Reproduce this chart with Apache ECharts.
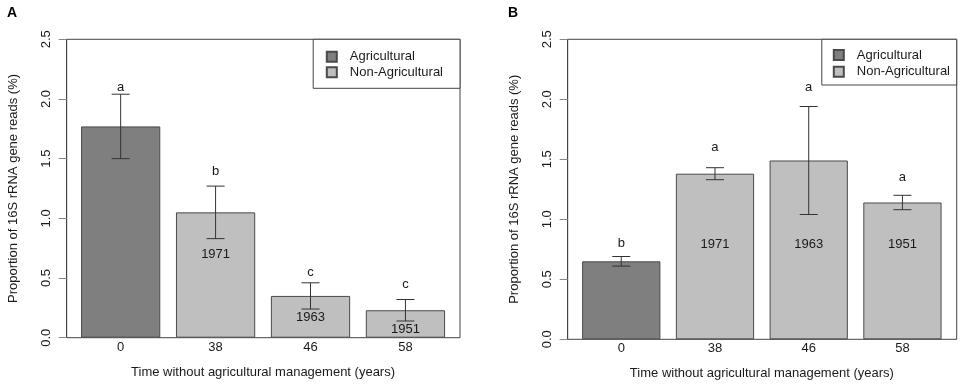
<!DOCTYPE html>
<html><head><meta charset="utf-8">
<script src="https://cdn.jsdelivr.net/npm/echarts@6/dist/echarts.min.js"></script>
<style>html,body{margin:0;padding:0;background:#fff}#c{width:964px;height:387px}</style>
</head><body><div id="c"></div>
<script>
// ---- data ----
const categories = ['0', '38', '46', '58'];
const groups = ['Agricultural', 'Non-Agricultural', 'Non-Agricultural', 'Non-Agricultural'];
const seriesNames = ['Agricultural', 'Non-Agricultural'];
const yMin = 0, yMax = 2.5, yStep = 0.5;

const meanA = [1.77, 1.05, 0.35, 0.23];
const lowA = [1.50, 0.83, 0.24, 0.14];
const highA = [2.04, 1.27, 0.46, 0.32];
const lettersA = ['a', 'b', 'c', 'c'];
const letterAtA = [2.10, 1.39, 0.55, 0.45];
const yearsA = ['', '1971', '1963', '1951'];
const yearAtA = [null, 0.70, 0.17, 0.07];

const meanB = [0.65, 1.38, 1.49, 1.14];
const lowB = [0.61, 1.33, 1.04, 1.08];
const highB = [0.69, 1.43, 1.94, 1.20];
const lettersB = ['b', 'a', 'a', 'a'];
const letterAtB = [0.80, 1.60, 2.10, 1.35];
const yearsB = ['', '1971', '1963', '1951'];
const yearAtB = [null, 0.79, 0.79, 0.79];

const panelTitles = ['A', 'B'];
const xTitle = 'Time without agricultural management (years)';
const yTitle = 'Proportion of 16S rRNA gene reads (%)';

// ---- styles / layout ----
const FONT = '"Liberation Sans", Arial, Helvetica, sans-serif';
const TXT = '#1a1a1a';
const LINE = '#444';
const fills = { 'Agricultural': '#7f7f7f', 'Non-Agricultural': '#bfbfbf' };

const layout = [
  { box: { left: 66.7, top: 39.3, width: 393.3, height: 298.4 }, dataLeft: 73.2, dataWidth: 379.7,
    legend: { right: 504, top: 39.3, padding: [10.4, 17, 9, 12.6], itemGap: 1.6 }, title: { left: 7, top: 6 } },
  { box: { left: 567.7, top: 39.3, width: 389, height: 300 }, dataLeft: 574.4, dataWidth: 374.9,
    legend: { right: 7.3, top: 39.3, padding: [8.7, 6.7, 6.3, 11], itemGap: 2.7 }, title: { left: 508, top: 6 } }
];

const panels = [
  { mean: meanA, low: lowA, high: highA, letters: lettersA, letterAt: letterAtA, years: yearsA, yearAt: yearAtA },
  { mean: meanB, low: lowB, high: highB, letters: lettersB, letterAt: letterAtB, years: yearsB, yearAt: yearAtB }
];

const grid = [], xAxis = [], yAxis = [], series = [], legend = [], title = [];

layout.forEach((L, p) => {
  grid.push({ left: L.dataLeft, top: L.box.top, width: L.dataWidth, height: L.box.height, show: false });
});
layout.forEach((L, p) => {
  grid.push({ left: L.box.left, top: L.box.top, width: L.box.width, height: L.box.height,
    show: true, borderColor: LINE, borderWidth: 1, backgroundColor: 'transparent' });
});

panels.forEach((P, p) => {
  const L = layout[p];
  xAxis.push({
    type: 'category', gridIndex: p, data: categories,
    axisLine: { show: false }, axisTick: { show: false },
    axisLabel: { margin: 3, fontSize: 13, color: TXT, fontFamily: FONT },
    name: xTitle, nameLocation: 'middle', nameGap: 28,
    nameTextStyle: { fontSize: 13, color: TXT, fontFamily: FONT }
  });
  yAxis.push({
    type: 'value', gridIndex: p, min: yMin, max: yMax, interval: yStep,
    offset: L.dataLeft - L.box.left,
    axisLine: { show: true, lineStyle: { color: LINE, width: 1 } },
    axisTick: { show: true, length: 8, lineStyle: { color: '#888', width: 1 } },
    splitLine: { show: false },
    axisLabel: { rotate: 90, margin: 14, fontSize: 13, color: TXT, fontFamily: FONT,
      formatter: v => v.toFixed(1) },
    name: yTitle, nameLocation: 'middle', nameGap: 47,
    nameTextStyle: { fontSize: 13, color: TXT, fontFamily: FONT }
  });

  seriesNames.forEach(name => {
    series.push({
      type: 'bar', name, xAxisIndex: p, yAxisIndex: p, stack: 'bars' + p,
      barCategoryGap: '16.5%',
      itemStyle: { color: fills[name], borderColor: '#4a4a4a', borderWidth: 1 },
      emphasis: { disabled: true },
      data: P.mean.map((v, i) => groups[i] === name ? v : '-'),
      z: 2
    });
  });

  series.push({
    type: 'custom', xAxisIndex: p, yAxisIndex: p, silent: true, z: 5,
    data: P.mean.map((v, i) => [i, P.low[i], P.high[i]]),
    renderItem: (params, api) => {
      const x = api.value(0);
      const lo = api.coord([x, api.value(1)]);
      const hi = api.coord([x, api.value(2)]);
      const hw = 9;
      const st = { stroke: '#333', lineWidth: 1 };
      return { type: 'group', children: [
        { type: 'line', shape: { x1: lo[0], y1: lo[1], x2: hi[0], y2: hi[1] }, style: st },
        { type: 'line', shape: { x1: lo[0] - hw, y1: lo[1], x2: lo[0] + hw, y2: lo[1] }, style: st },
        { type: 'line', shape: { x1: hi[0] - hw, y1: hi[1], x2: hi[0] + hw, y2: hi[1] }, style: st }
      ] };
    }
  });

  const textSeries = (labels, at) => ({
    type: 'custom', xAxisIndex: p, yAxisIndex: p, silent: true, z: 6,
    data: at.map((v, i) => [i, v]).filter(d => d[1] !== null),
    renderItem: (params, api) => {
      const i = api.value(0);
      const pt = api.coord([i, api.value(1)]);
      return { type: 'text', x: pt[0], y: pt[1],
        style: { text: labels[i], fill: TXT, font: '13px ' + FONT, align: 'center', verticalAlign: 'middle' } };
    }
  });
  series.push(textSeries(P.letters, P.letterAt));
  series.push(textSeries(P.years, P.yearAt));

  legend.push({
    orient: 'vertical', right: L.legend.right, top: L.legend.top, padding: L.legend.padding,
    itemGap: L.legend.itemGap, itemWidth: 10, itemHeight: 10, icon: 'rect',
    borderColor: LINE, borderWidth: 1, backgroundColor: '#fff', selectedMode: false,
    data: seriesNames, z: 10,
    textStyle: { fontSize: 13, lineHeight: 14, color: TXT, fontFamily: FONT, padding: [0, 0, 0, 8] }
  });
  title.push({ text: panelTitles[p], left: L.title.left, top: L.title.top, padding: 0,
    textStyle: { fontSize: 14, fontWeight: 'bold', color: '#000', fontFamily: FONT } });
});

const chart = echarts.init(document.getElementById('c'), null, { renderer: 'canvas' });
chart.setOption({ animation: false, backgroundColor: '#fff', title, legend, grid, xAxis, yAxis, series });
</script></body></html>
